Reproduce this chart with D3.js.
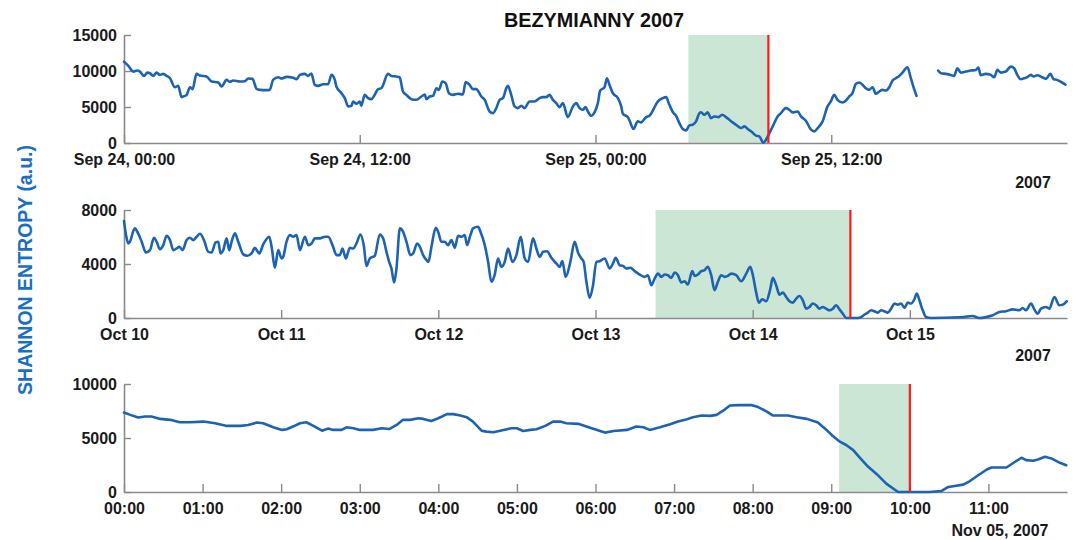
<!DOCTYPE html>
<html><head><meta charset="utf-8">
<script src="https://cdn.jsdelivr.net/npm/d3@7"></script>
<style>
html,body{margin:0;padding:0;background:#fff;}
svg text{font-family:"Liberation Sans",Arial,Helvetica,sans-serif;font-weight:bold;}
</style></head>
<body><svg id="c" width="1075" height="540"></svg>
<script>
// ---------- DATA ----------
const title = "BEZYMIANNY 2007";
const yLabel = "SHANNON ENTROPY (a.u.)";

// Panel 1: hours after 2007-09-24 00:00 UTC, entropy value (null = gap)
const sepSeries = [[0,11300],[0.22,10710],[0.47,9920],[0.68,10060],[0.81,9920],[1.02,9320],[1.19,9780],[1.32,9690],[1.49,9320],[1.66,9780],[1.83,9460],[2.00,9600],[2.17,9320],[2.34,9000],[2.59,7750],[2.76,7940],[2.93,6370],[3.10,6550],[3.19,6690],[3.36,7750],[3.49,7480],[3.69,9600],[3.86,9370],[4.20,9230],[4.46,8540],[4.80,8400],[4.97,7850],[5.22,8770],[5.39,8490],[5.56,8680],[5.90,8540],[6.15,8580],[6.32,8950],[6.54,8910],[6.75,7520],[6.92,7380],[7.25,7340],[7.42,7380],[7.59,8770],[7.85,9140],[8.02,8950],[8.27,9180],[8.61,9050],[8.78,8860],[8.95,9460],[9.20,9600],[9.37,9320],[9.54,9650],[9.71,8080],[9.88,7940],[10.14,8170],[10.39,8170],[10.56,9460],[10.73,8770],[10.81,7850],[11.07,6920],[11.24,6230],[11.41,5080],[11.58,5170],[11.66,5770],[11.83,5450],[12.00,5770],[12.08,5170],[12.25,6690],[12.42,6230],[12.59,6090],[12.76,6690],[12.93,7480],[13.10,7610],[13.44,9600],[13.61,9320],[13.86,9230],[14.03,9140],[14.20,7150],[14.37,6690],[14.63,6090],[14.88,6000],[15.14,6460],[15.31,6740],[15.39,6090],[15.56,6460],[15.73,6550],[15.90,7610],[16.03,7380],[16.20,8540],[16.37,8310],[16.54,6920],[16.75,6690],[17.00,6830],[17.25,6740],[17.39,8450],[17.59,8080],[17.76,7480],[17.93,7480],[18.19,6460],[18.36,6000],[18.61,4380],[18.78,4150],[18.95,4850],[19.12,6000],[19.29,6230],[19.46,7610],[19.54,7940],[19.71,6690],[19.88,5080],[20.05,4850],[20.22,5170],[20.39,4850],[20.64,5770],[20.90,5770],[21.15,6230],[21.32,6370],[21.49,6370],[21.66,6690],[21.83,6000],[22.00,5540],[22.17,4980],[22.34,5540],[22.59,3600],[22.85,5080],[23.02,5540],[23.19,4850],[23.36,4620],[23.49,4980],[23.61,4380],[23.78,3780],[23.95,4250],[24.12,5540],[24.24,7290],[24.46,7750],[24.58,9000],[24.71,8080],[24.88,6920],[25.14,6230],[25.31,5080],[25.39,4060],[25.64,3600],[25.73,3140],[25.93,1940],[26.15,3000],[26.32,2860],[26.58,3600],[26.75,3780],[27.00,4940],[27.17,5770],[27.42,6230],[27.59,6370],[27.76,5310],[27.97,4150],[28.10,3780],[28.27,2770],[28.44,1940],[28.61,1750],[28.78,2450],[28.95,2540],[29.12,3000],[29.29,4150],[29.37,4250],[29.54,3920],[29.71,4250],[29.88,3460],[30.05,3690],[30.27,3600],[30.44,3920],[30.64,3600],[30.81,3230],[30.98,2860],[31.15,2540],[31.41,2080],[31.58,2310],[31.75,1940],[31.92,1620],[32.17,1020],[32.34,920],[32.54,50],[32.68,460],[32.85,1380],[33.02,2310],[33.27,3690],[33.44,4150],[33.69,4850],[33.86,4620],[34.03,4250],[34.29,4380],[34.46,3690],[34.71,3090],[34.97,1850],[35.14,1620],[35.31,2080],[35.56,3000],[35.81,5080],[35.98,5770],[36.15,6690],[36.32,6000],[36.58,5630],[36.75,5910],[36.92,6460],[37.08,6920],[37.25,8210],[37.42,8400],[37.59,8080],[37.76,7610],[37.93,7380],[38.10,7750],[38.27,6830],[38.44,7150],[38.61,7380],[38.78,7290],[38.95,7750],[39.12,8680],[39.29,9000],[39.46,9320],[39.63,9780],[39.88,10520],[40.05,9000],[40.22,7480],[40.34,6550],[40.9,null],[41.44,10060],[41.58,9690],[41.83,9600],[42.08,9460],[42.25,9320],[42.42,10380],[42.59,9780],[42.85,9920],[43.10,10060],[43.36,10150],[43.49,10480],[43.61,9410],[43.86,9600],[44.12,9460],[44.29,9140],[44.46,10150],[44.63,9780],[44.88,9920],[45.14,10610],[45.31,10380],[45.47,9460],[45.64,8860],[45.81,9000],[45.98,9140],[46.15,9460],[46.31,9230],[46.49,9410],[46.73,9140],[46.93,8910],[47.15,9600],[47.32,8860],[47.49,8770],[47.66,8540],[47.92,8120]];

// Panel 2: hours after 2007-10-10 00:00 UTC
const octSeries = [[0,7180],[0.31,6140],[0.66,5520],[0.92,5650],[1.42,6440],[1.68,6640],[2.03,6390],[2.70,5650],[3.36,4850],[3.97,5030],[4.58,5940],[4.98,5650],[5.49,5100],[6.00,5400],[6.51,6090],[7.02,5770],[7.53,5030],[8.04,5150],[8.44,5280],[8.95,5030],[9.56,5770],[10.07,5940],[10.58,5770],[11.09,6020],[11.60,6240],[12.21,5770],[12.87,4900],[13.38,4850],[13.99,5600],[14.39,5650],[14.75,4780],[15.16,5030],[15.67,5900],[16.07,5030],[16.43,5650],[16.94,6270],[17.45,5650],[18.21,4710],[18.82,4610],[19.48,4780],[19.99,5200],[20.65,4780],[21.26,5450],[22.18,6020],[22.58,5150],[23.04,3720],[23.55,5030],[24.06,4410],[24.31,4530],[24.82,5650],[25.33,6140],[25.84,6020],[26.35,6140],[26.86,5030],[27.62,6020],[28.13,5400],[28.64,5520],[29.15,5900],[29.91,5900],[30.67,6020],[31.18,6020],[31.84,5400],[32.45,4660],[32.96,4660],[33.37,5150],[33.88,4410],[34.49,5200],[34.99,5150],[35.50,5520],[36.11,6190],[36.62,5350],[37.03,3860],[37.54,4410],[38.30,4610],[39.06,6190],[39.57,5900],[40.08,4900],[40.49,4160],[40.84,3670],[41.25,2630],[41.61,3670],[42.12,6640],[42.62,6390],[43.13,5650],[43.74,4660],[44.15,4780],[44.76,5520],[45.17,5280],[45.68,4660],[46.19,4290],[46.49,4160],[46.95,5280],[47.61,6690],[47.97,6390],[48.47,5650],[48.98,5650],[49.49,5400],[50.00,5770],[50.51,5200],[51.02,6090],[51.53,6020],[52.03,6140],[52.39,5400],[52.90,6140],[53.31,6640],[54.07,6760],[54.43,6390],[55.09,5400],[55.60,4160],[56.10,2680],[56.61,3220],[57.12,4410],[57.63,3790],[58.14,4160],[58.65,5150],[59.31,4160],[59.92,4660],[60.58,6020],[61.19,4410],[61.70,4160],[62.46,5900],[62.97,5150],[63.48,4530],[63.99,4900],[64.60,4950],[65.26,4460],[66.02,4040],[66.53,3790],[66.94,4210],[67.45,3050],[68.16,4160],[68.82,5650],[69.33,4850],[69.84,4410],[70.19,4160],[70.60,2720],[71.11,1490],[71.62,2430],[72.13,4160],[72.64,4210],[73.40,4410],[74.16,3670],[74.67,4040],[75.08,4460],[75.69,3910],[76.20,3860],[76.70,3670],[77.32,3720],[77.98,3470],[78.74,3220],[79.50,3050],[80.01,3170],[80.52,2430],[81.03,2920],[81.54,3290],[82.05,3050],[82.55,3220],[83.06,3170],[83.57,2970],[84.08,3370],[84.59,3170],[85.10,2630],[85.61,2720],[86.11,2480],[86.78,3470],[87.13,3120],[87.64,3220],[88.15,3470],[88.66,3540],[89.16,3790],[89.67,3170],[90.18,2060],[90.69,2680],[91.20,3170],[91.71,3050],[92.22,3120],[92.73,3290],[93.49,3170],[94.25,2720],[95.02,3290],[95.63,3790],[96.03,3170],[96.54,1880],[96.95,1140],[97.46,1390],[98.07,1240],[98.68,2130],[99.08,2970],[99.59,2430],[100.10,1730],[100.61,1880],[101.12,1560],[101.63,1240],[102.14,1140],[102.65,1440],[103.15,1630],[103.66,1310],[104.17,690],[104.68,820],[105.19,1070],[105.70,940],[106.21,690],[106.71,820],[107.22,690],[107.73,570],[108.24,690],[108.75,940],[109.26,640],[109.77,320],[110.27,0],[110.78,0],[111.29,0],[112.05,0],[112.56,70],[113.07,250],[113.58,400],[114.09,570],[114.60,500],[115.11,400],[115.61,570],[116.12,500],[116.63,400],[117.14,690],[117.65,1070],[118.16,990],[118.67,1070],[119.18,740],[119.68,1140],[120.19,1070],[120.70,1390],[121.06,1810],[121.46,1310],[121.97,570],[122.48,70],[123.25,0],[127.57,50],[129.60,150],[130.62,0],[131.64,70],[132.66,200],[133.67,450],[134.69,500],[135.71,640],[136.72,570],[137.23,740],[137.74,570],[138.51,1070],[139.01,640],[139.52,320],[140.03,690],[140.79,820],[141.30,690],[142.07,1560],[142.83,940],[143.34,990],[143.95,1240]];

// Panel 3: hours after 2007-11-05 00:00 UTC
const novSeries = [[0,7360],[0.08,7140],[0.18,6900],[0.27,6990],[0.35,6990],[0.46,6770],[0.59,6680],[0.71,6460],[0.84,6460],[1.01,6520],[1.16,6370],[1.31,6120],[1.48,6120],[1.58,6210],[1.69,6430],[1.77,6370],[1.90,5990],[2.01,5750],[2.07,5810],[2.15,6060],[2.24,6370],[2.32,6460],[2.41,6120],[2.52,5680],[2.60,5870],[2.66,5750],[2.77,5750],[2.83,5990],[2.92,5900],[3.00,5750],[3.09,5750],[3.17,5750],[3.28,5900],[3.38,5840],[3.47,6210],[3.55,6680],[3.64,6680],[3.75,6830],[3.81,6770],[3.91,6580],[4.00,6830],[4.11,7210],[4.19,7210],[4.28,7080],[4.36,6930],[4.44,6520],[4.55,5680],[4.61,5590],[4.70,5530],[4.83,5750],[4.93,5900],[5.00,5900],[5.08,5650],[5.17,5750],[5.25,5810],[5.36,6120],[5.46,6520],[5.55,6520],[5.63,6370],[5.78,6310],[5.95,5900],[6.12,5500],[6.23,5650],[6.40,5750],[6.52,6060],[6.61,5990],[6.69,5750],[6.82,5990],[6.95,6270],[7.05,6520],[7.14,6680],[7.24,6930],[7.35,7080],[7.46,7050],[7.54,7140],[7.63,7550],[7.71,8010],[7.82,8040],[7.99,8040],[8.07,7860],[8.18,7450],[8.26,7080],[8.45,7080],[8.56,6930],[8.69,6770],[8.83,6430],[8.94,5750],[9.02,5190],[9.11,4660],[9.19,4350],[9.28,3880],[9.36,3200],[9.47,2330],[9.58,1650],[9.70,780],[9.85,0],[10.00,0],[10.13,0],[10.25,0],[10.40,90],[10.49,470],[10.57,560],[10.68,680],[10.76,990],[10.87,1550],[10.98,2080],[11.04,2270],[11.23,2270],[11.34,2800],[11.42,3170],[11.48,2950],[11.57,2890],[11.63,3010],[11.72,3260],[11.80,3110],[11.91,2700],[11.99,2480]];

// Panel settings (dates, domains, ticks, event windows)
const panelStarts = ["2007-09-24T00:00Z","2007-10-10T00:00Z","2007-11-05T00:00Z"];
const panelSpansH = [48, 144, 12];
const yMaxes = [15000, 8000, 10000];
const yTickValues = [[0,5000,10000,15000],[0,4000,8000],[0,5000,10000]];
const xTickHours = [[0,12,24,36],[0,24,48,72,96,120],[0,1,2,3,4,5,6,7,8,9,10,11]];
const xTickFormats = ["%b %d, %H:%M","%b %d","%H:%M"];
const shadeStartH = [28.73, 81.17, 9.10];   // green window start (hours)
const eruptionH = [32.80, 110.92, 10.00];    // red line (hours)
const cornerLabels = ["2007","2007","Nov 05, 2007"];

// ---------- DRAW ----------
const svg = d3.select("#c");
const X0 = 124, X1 = 1067;
const rows = [{top:35,bot:143},{top:210,bot:318},{top:384,bot:492}];
const series = [sepSeries, octSeries, novSeries];
const curves = [d3.curveMonotoneX, d3.curveMonotoneX, d3.curveLinear];
const hr = 3600e3;

series.forEach((data, i) => {
  const t0 = new Date(panelStarts[i]).getTime();
  const toDate = h => new Date(t0 + h*hr);
  const x = d3.scaleUtc().domain([toDate(0), toDate(panelSpansH[i])]).range([X0, X1]);
  const y = d3.scaleLinear().domain([0, yMaxes[i]]).range([rows[i].bot, rows[i].top]);
  const g = svg.append("g");

  // shaded window
  g.append("rect")
    .attr("x", x(toDate(shadeStartH[i])))
    .attr("y", y(yMaxes[i]))
    .attr("width", x(toDate(eruptionH[i])) - x(toDate(shadeStartH[i])))
    .attr("height", y(0) - y(yMaxes[i]))
    .attr("fill", "#cbe6d5");

  // axes
  const xa = d3.axisBottom(x)
    .tickValues(xTickHours[i].map(toDate))
    .tickFormat(d3.utcFormat(xTickFormats[i]))
    .tickSizeInner(-8).tickSizeOuter(0).tickPadding(11);
  const gx = g.append("g").attr("transform", `translate(0,${rows[i].bot})`).call(xa);
  const ya = d3.axisLeft(y).tickValues(yTickValues[i]).tickFormat(d3.format("d"))
    .tickSizeInner(-7).tickSizeOuter(0).tickPadding(7);
  const gy = g.append("g").attr("transform", `translate(${X0},0)`).call(ya);
  [gx, gy].forEach(a => {
    a.select(".domain").attr("stroke", "#8a8a8a").attr("stroke-width", 1.6);
    a.selectAll(".tick line").attr("stroke", "#8a8a8a").attr("stroke-width", 1.4);
    a.selectAll("text").attr("fill", "#1a1a1a").style("font-size", "16px")
      .style("font-family", '"Liberation Sans",Arial,sans-serif').style("font-weight", "bold");
  });

  // line
  const line = d3.line()
    .defined(d => d[1] !== null)
    .x(d => x(toDate(d[0])))
    .y(d => y(d[1]))
    .curve(curves[i]);
  g.append("path").datum(data)
    .attr("d", line).attr("fill", "none")
    .attr("stroke", "#1d63b3").attr("stroke-width", 2.6)
    .attr("stroke-linejoin", "round").attr("stroke-linecap", "round");

  // red eruption line
  g.append("line")
    .attr("x1", x(toDate(eruptionH[i]))).attr("x2", x(toDate(eruptionH[i])))
    .attr("y1", y(yMaxes[i])).attr("y2", y(0))
    .attr("stroke", "#ff1a1a").attr("stroke-width", 2.2);

  // corner label
  g.append("text")
    .attr("x", i === 2 ? 1000 : 1033)
    .attr("y", i === 2 ? 536 : rows[i].bot + (i === 0 ? 45 : 43))
    .attr("text-anchor", "middle")
    .style("font-size", "16px").attr("fill", "#1a1a1a")
    .text(cornerLabels[i]);
});

// title
svg.append("text").attr("x", 594).attr("y", 27).attr("text-anchor", "middle")
  .style("font-size", "19.8px").attr("fill", "#111").text(title);

// y label
svg.append("text")
  .attr("transform", "translate(32,270) rotate(-90)")
  .attr("text-anchor", "middle")
  .style("font-size", "19.5px").attr("fill", "#1a6fc4")
  .text(yLabel);
</script></body></html>
